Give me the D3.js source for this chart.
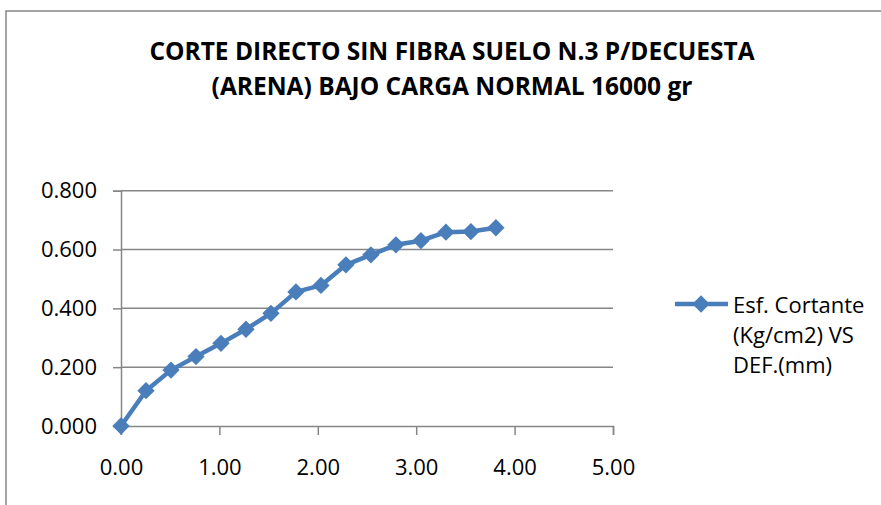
<!DOCTYPE html>
<html>
<head>
<meta charset="utf-8">
<script src="https://cdn.jsdelivr.net/npm/d3@7"></script>
<style>
  body { margin: 0; background: #fff; }
  text { font-family: "Open Sans", sans-serif; fill: #000; }
</style>
</head>
<body>
<svg width="881" height="505"></svg>
<script>
// Datos del ensayo (deformación mm, esfuerzo cortante kg/cm2).
const deformacion = [0, 0.254, 0.508, 0.762, 1.016, 1.27, 1.524, 1.778, 2.032, 2.286, 2.54, 2.794, 3.048, 3.302, 3.556, 3.81];
const esfuerzo = [0, 0.120, 0.190, 0.236, 0.281, 0.329, 0.383, 0.456, 0.478, 0.548, 0.582, 0.616, 0.630, 0.659, 0.661, 0.674];
const xTicks = [0, 1, 2, 3, 4, 5];
const yTicks = [0, 0.2, 0.4, 0.6, 0.8];
const titulo = ["CORTE DIRECTO SIN FIBRA SUELO N.3 P/DECUESTA", "(ARENA) BAJO CARGA NORMAL 16000 gr"];
const leyenda = ["Esf. Cortante", "(Kg/cm2) VS", "DEF.(mm)"];

const dataset = deformacion.map((d, i) => [d, esfuerzo[i]]);

const svg = d3.select("svg");
const azul = "#4a7ebb";
const gris = "#868686";

// Marco del gráfico.
svg.append("rect")
    .attr("x", 6).attr("y", 11)
    .attr("width", 900).attr("height", 520)
    .attr("fill", "none")
    .attr("stroke", gris)
    .attr("stroke-width", 1.5);

// Escalas.
const xScale = d3.scaleLinear().domain([0, 5]).range([121, 613]);
const yScale = d3.scaleLinear().domain([0, 0.8]).range([426, 190.7]);

// Título.
svg.selectAll(".titulo")
    .data(titulo)
    .enter()
    .append("text")
    .attr("class", "titulo")
    .attr("x", 452)
    .attr("y", (d, i) => 60 + i * 35)
    .attr("text-anchor", "middle")
    .attr("font-size", 24.5)
    .attr("font-weight", "bold")
    .text(d => d);

// Líneas de cuadrícula.
svg.append("g")
    .selectAll("line")
    .data(yTicks.slice(1))
    .enter()
    .append("line")
    .attr("x1", xScale(0)).attr("x2", xScale(5))
    .attr("y1", d => yScale(d)).attr("y2", d => yScale(d))
    .attr("stroke", gris)
    .attr("stroke-width", 1.5);

// Eje Y.
const yAxis = d3.axisLeft(yScale)
    .tickValues(yTicks)
    .tickFormat(d3.format(".3f"))
    .tickSize(8)
    .tickPadding(16);
const yAxisGroup = svg.append("g")
    .attr("transform", `translate(${xScale(0)}, 0)`)
    .call(yAxis);

// Eje X.
const xAxis = d3.axisBottom(xScale)
    .tickValues(xTicks)
    .tickFormat(d3.format(".2f"))
    .tickSize(9)
    .tickPadding(24);
const xAxisGroup = svg.append("g")
    .attr("transform", `translate(0, ${yScale(0)})`)
    .call(xAxis);

[xAxisGroup, yAxisGroup].forEach(g => {
    g.select(".domain").attr("stroke", gris).attr("stroke-width", 1.5);
    g.selectAll(".tick line").attr("stroke", gris).attr("stroke-width", 1.5);
    g.selectAll(".tick text")
        .attr("font-family", "'Open Sans', sans-serif")
        .attr("font-size", 22)
        .attr("fill", "#000");
});

// Serie.
const line = d3.line().x(d => xScale(d[0])).y(d => yScale(d[1]));
svg.append("path")
    .datum(dataset)
    .attr("d", line)
    .attr("fill", "none")
    .attr("stroke", azul)
    .attr("stroke-width", 4.5)
    .attr("stroke-linejoin", "round");

const diamante = d3.symbol().type(d3.symbolSquare).size(150);
svg.append("g")
    .selectAll("path")
    .data(dataset)
    .enter()
    .append("path")
    .attr("d", diamante)
    .attr("transform", d => `translate(${xScale(d[0])}, ${yScale(d[1])}) rotate(45)`)
    .attr("fill", azul);

// Leyenda.
const ley = svg.append("g");
ley.append("line")
    .attr("x1", 675).attr("x2", 728)
    .attr("y1", 304).attr("y2", 304)
    .attr("stroke", azul).attr("stroke-width", 4.5);
ley.append("path")
    .attr("d", diamante)
    .attr("transform", "translate(701, 304) rotate(45)")
    .attr("fill", azul);
ley.selectAll("text")
    .data(leyenda)
    .enter()
    .append("text")
    .attr("x", 733)
    .attr("y", (d, i) => 313 + i * 30)
    .attr("font-size", 22)
    .text(d => d);
</script>
</body>
</html>
